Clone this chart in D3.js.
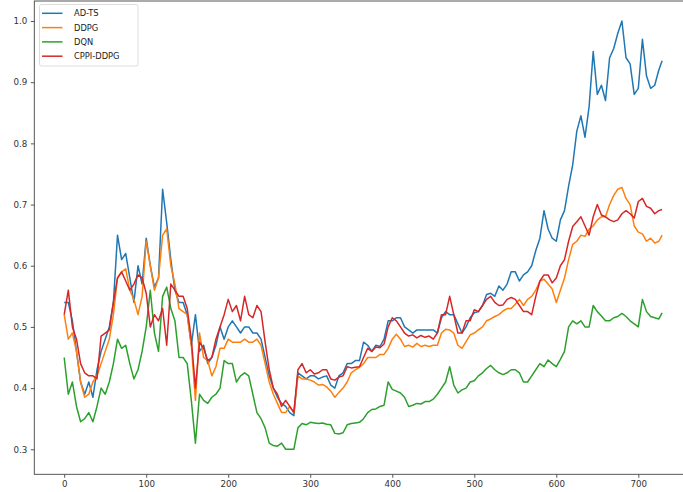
<!DOCTYPE html>
<head lang="en">
<meta charset="utf-8">
<title>AD-TS vs DDPG vs DQN vs CPPI-DDPG</title>
<style>
body { margin:0; background:#fff; }
text { font-family:"DejaVu Sans",sans-serif; }
</style>
<script src="https://cdn.jsdelivr.net/npm/d3@7/dist/d3.min.js"></script>
</head>
<body>
<div id="chart"></div>
<script>
// series names / colours
var seriesNames = ["AD-TS", "DDPG", "DQN", "CPPI-DDPG"];
var seriesColors = ["#1f77b4", "#ff7f0e", "#2ca02c", "#d62728"];

// time steps: every 5th step, plus the last one
var steps = d3.range(0, 730, 5).concat([729]);

// values, one row = 10 steps (0-45, 50-95, ...)
var adts = [
  0.54, 0.54, 0.51, 0.46, 0.41, 0.39, 0.41, 0.385, 0.43, 0.46,
  0.48, 0.50, 0.54, 0.65, 0.61, 0.62, 0.58, 0.54, 0.60, 0.57,
  0.645, 0.60, 0.565, 0.58, 0.725, 0.67, 0.61, 0.56, 0.54, 0.54,
  0.52, 0.47, 0.52, 0.46, 0.47, 0.44, 0.45, 0.47, 0.50, 0.48,
  0.50, 0.51, 0.50, 0.49, 0.50, 0.50, 0.49, 0.49, 0.48, 0.45,
  0.42, 0.40, 0.385, 0.375, 0.37, 0.36, 0.355, 0.425, 0.42, 0.415,
  0.42, 0.42, 0.415, 0.418, 0.42, 0.405, 0.40, 0.42, 0.425, 0.44,
  0.44, 0.445, 0.445, 0.475, 0.47, 0.46, 0.47, 0.468, 0.48, 0.51,
  0.51, 0.515, 0.515, 0.50, 0.495, 0.49, 0.495, 0.495, 0.495, 0.495,
  0.495, 0.49, 0.515, 0.525, 0.52, 0.52, 0.505, 0.49, 0.50, 0.515,
  0.523, 0.525, 0.535, 0.553, 0.555, 0.55, 0.567, 0.56, 0.57, 0.59,
  0.59, 0.575, 0.585, 0.59, 0.60, 0.625, 0.645, 0.69, 0.66, 0.645,
  0.64, 0.675, 0.69, 0.73, 0.765, 0.82, 0.845, 0.81, 0.86, 0.95,
  0.88, 0.895, 0.87, 0.94, 0.955, 0.98, 1.0, 0.94, 0.93, 0.88,
  0.89, 0.97, 0.91, 0.89, 0.895, 0.92, 0.935
];
var ddpg = [
  0.52, 0.48, 0.49, 0.46, 0.41, 0.385, 0.39, 0.41, 0.42, 0.44,
  0.46, 0.48, 0.52, 0.58, 0.59, 0.595, 0.56, 0.545, 0.52, 0.55,
  0.64, 0.60, 0.56, 0.58, 0.65, 0.66, 0.60, 0.57, 0.53, 0.525,
  0.52, 0.47, 0.38, 0.49, 0.45, 0.445, 0.42, 0.435, 0.465, 0.465,
  0.48, 0.475, 0.475, 0.475, 0.48, 0.475, 0.475, 0.48, 0.47, 0.44,
  0.41, 0.39, 0.375, 0.36, 0.36, 0.37, 0.36, 0.42, 0.415, 0.415,
  0.413, 0.41, 0.405, 0.406, 0.402, 0.395, 0.385, 0.393, 0.40, 0.41,
  0.425, 0.43, 0.434, 0.44, 0.45, 0.45, 0.45, 0.455, 0.455, 0.465,
  0.48, 0.488, 0.48, 0.468, 0.47, 0.467, 0.473, 0.468, 0.47, 0.468,
  0.47, 0.47, 0.49, 0.496, 0.495, 0.49, 0.47, 0.465, 0.476, 0.487,
  0.49, 0.495, 0.50, 0.51, 0.513, 0.517, 0.52, 0.526, 0.53, 0.53,
  0.537, 0.545, 0.535, 0.545, 0.55, 0.56, 0.575, 0.578, 0.57, 0.562,
  0.54, 0.56, 0.58, 0.61, 0.635, 0.64, 0.65, 0.648, 0.66, 0.665,
  0.675, 0.68, 0.68, 0.70, 0.715, 0.725, 0.728, 0.71, 0.70, 0.665,
  0.655, 0.652, 0.64, 0.645, 0.637, 0.64, 0.65
];
var dqn = [
  0.45, 0.39, 0.41, 0.37, 0.345, 0.35, 0.36, 0.345, 0.37, 0.40,
  0.39, 0.41, 0.44, 0.48, 0.465, 0.47, 0.44, 0.415, 0.43, 0.46,
  0.50, 0.56, 0.49, 0.46, 0.55, 0.565, 0.53, 0.51, 0.45, 0.45,
  0.44, 0.38, 0.31, 0.39, 0.38, 0.375, 0.385, 0.39, 0.40, 0.445,
  0.44, 0.44, 0.41, 0.42, 0.425, 0.42, 0.39, 0.36, 0.35, 0.335,
  0.31, 0.306, 0.305, 0.31, 0.30, 0.30, 0.30, 0.335, 0.342, 0.34,
  0.344, 0.343, 0.342, 0.343, 0.341, 0.34, 0.326, 0.325, 0.327, 0.34,
  0.342, 0.343, 0.344, 0.35, 0.36, 0.365, 0.366, 0.37, 0.372, 0.41,
  0.398, 0.395, 0.392, 0.385, 0.37, 0.372, 0.375, 0.374, 0.378, 0.378,
  0.382, 0.39, 0.40, 0.41, 0.435, 0.405, 0.392, 0.397, 0.40, 0.41,
  0.412, 0.42, 0.425, 0.432, 0.437, 0.43, 0.425, 0.422, 0.425, 0.43,
  0.43, 0.425, 0.41, 0.41, 0.42, 0.43, 0.44, 0.435, 0.446, 0.44,
  0.435, 0.447, 0.46, 0.50, 0.51, 0.505, 0.51, 0.50, 0.50, 0.535,
  0.525, 0.518, 0.51, 0.51, 0.515, 0.517, 0.522, 0.517, 0.51, 0.505,
  0.50, 0.545, 0.525, 0.517, 0.515, 0.513, 0.523
];
var cppi = [
  0.52, 0.56, 0.50, 0.48, 0.44, 0.425, 0.42, 0.42, 0.415, 0.485,
  0.49, 0.495, 0.54, 0.58, 0.59, 0.575, 0.56, 0.57, 0.585, 0.58,
  0.555, 0.50, 0.52, 0.51, 0.53, 0.47, 0.57, 0.56, 0.55, 0.55,
  0.53, 0.48, 0.40, 0.475, 0.465, 0.445, 0.45, 0.48, 0.50, 0.52,
  0.545, 0.525, 0.535, 0.51, 0.55, 0.52, 0.515, 0.535, 0.525, 0.475,
  0.43, 0.40, 0.39, 0.37, 0.38, 0.37, 0.36, 0.43, 0.44, 0.425,
  0.43, 0.423, 0.425, 0.43, 0.43, 0.415, 0.413, 0.418, 0.42, 0.435,
  0.433, 0.434, 0.435, 0.45, 0.465, 0.46, 0.467, 0.466, 0.472, 0.50,
  0.515, 0.51, 0.50, 0.49, 0.485, 0.487, 0.482, 0.486, 0.483, 0.485,
  0.48, 0.49, 0.52, 0.52, 0.55, 0.52, 0.49, 0.49, 0.51, 0.51,
  0.528, 0.525, 0.535, 0.545, 0.55, 0.54, 0.535, 0.536, 0.545, 0.548,
  0.545, 0.535, 0.525, 0.525, 0.52, 0.55, 0.575, 0.585, 0.585, 0.572,
  0.58, 0.60, 0.61, 0.64, 0.664, 0.672, 0.68, 0.665, 0.65, 0.68,
  0.70, 0.683, 0.68, 0.675, 0.672, 0.675, 0.685, 0.69, 0.685, 0.678,
  0.705, 0.71, 0.697, 0.694, 0.685, 0.69, 0.692
];

var xTicks = [0, 100, 200, 300, 400, 500, 600, 700];
var yTicks = [0.3, 0.4, 0.5, 0.6, 0.7, 0.8, 0.9, 1.0];

var allSeries = [adts, ddpg, dqn, cppi];

var width = 683,
    height = 492;

// plot box (right edge falls just outside the picture)
var plotL = 34.3, plotT = 1, plotR = 692, plotB = 474.3;

var x = d3.scaleLinear().domain([-36.45, 765.45]).range([plotL, plotR]);
var y = d3.scaleLinear().domain([0.2591, 1.0327]).range([plotB, plotT]);

var svg = d3.select("#chart").append("svg")
    .attr("width", width)
    .attr("height", height)
    .style("display", "block");

svg.append("rect")
    .attr("width", width)
    .attr("height", height)
    .attr("fill", "#fff");

svg.append("clipPath").attr("id", "plotclip")
  .append("rect")
    .attr("x", plotL).attr("y", plotT)
    .attr("width", plotR - plotL).attr("height", plotB - plotT);

// lines
var line = d3.line()
    .x(function(d) { return x(d[0]); })
    .y(function(d) { return y(d[1]); });

svg.append("g")
    .attr("clip-path", "url(#plotclip)")
  .selectAll("path")
    .data(allSeries)
    .enter()
    .append("path")
      .attr("d", function(vals) {
          return line(vals.map(function(v, i) { return [steps[i], v]; }));
      })
      .attr("fill", "none")
      .attr("stroke", function(d, i) { return seriesColors[i]; })
      .attr("stroke-width", 1.5)
      .attr("stroke-linejoin", "round");

// axes
var xAxis = svg.append("g")
    .attr("transform", "translate(0," + plotB + ")")
    .call(d3.axisBottom(x).tickValues(xTicks).tickSize(3.5).tickPadding(3.5)
        .tickFormat(d3.format("d")));
var yAxis = svg.append("g")
    .attr("transform", "translate(" + plotL + ",0)")
    .call(d3.axisLeft(y).tickValues(yTicks).tickSize(3.5).tickPadding(3.5)
        .tickFormat(d3.format(".1f")));

[xAxis, yAxis].forEach(function(ax) {
    ax.select(".domain").remove();
    ax.selectAll(".tick line").attr("stroke", "#444").attr("stroke-width", 0.9);
    ax.selectAll(".tick text")
        .attr("fill", "#333")
        .style("font-size", "8.7px")
        .style("font-family", "'DejaVu Sans', sans-serif");
});

// spines
svg.append("rect")
    .attr("x", plotL).attr("y", plotT)
    .attr("width", plotR - plotL).attr("height", plotB - plotT)
    .attr("fill", "none")
    .attr("stroke", "#444")
    .attr("stroke-width", 0.9);

// legend
var legend = svg.append("g");
legend.append("rect")
    .attr("x", 39.5).attr("y", 4.5)
    .attr("width", 98.5).attr("height", 61.5)
    .attr("rx", 2)
    .attr("fill", "#fff")
    .attr("fill-opacity", 0.8)
    .attr("stroke", "#d9d9d9")
    .attr("stroke-width", 0.9);

var items = legend.selectAll("g.item")
    .data(seriesNames)
    .enter()
    .append("g")
      .attr("class", "item")
      .attr("transform", function(d, i) { return "translate(0," + (13.3 + i * 14.3) + ")"; });

items.append("line")
    .attr("x1", 42).attr("x2", 62.5)
    .attr("y1", 0).attr("y2", 0)
    .attr("stroke", function(d, i) { return seriesColors[i]; })
    .attr("stroke-width", 1.5);

items.append("text")
    .attr("x", 74)
    .attr("y", 3)
    .style("font-size", "8.3px")
    .attr("fill", "#222")
    .text(function(d) { return d; });
</script>
</body>
</html>
